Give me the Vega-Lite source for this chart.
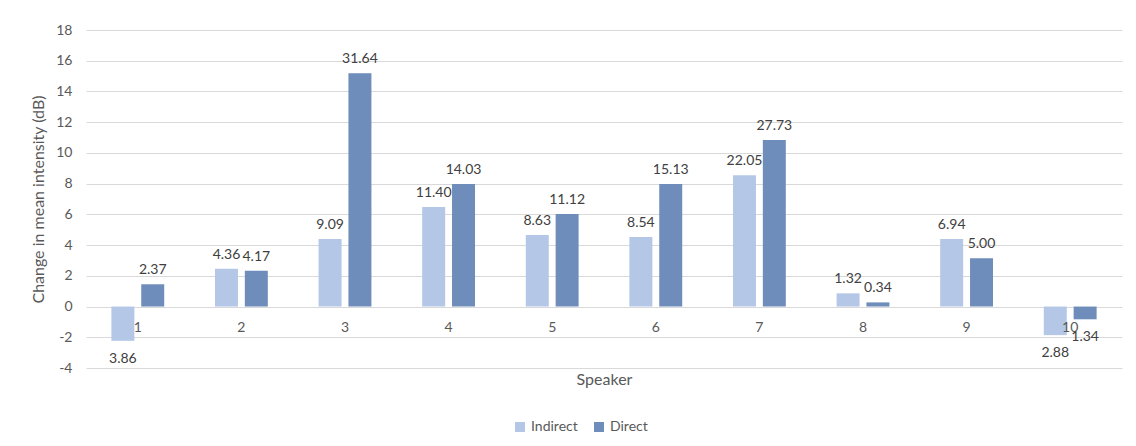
{
  "$schema": "https://vega.github.io/schema/vega-lite/v6.json",
  "width": 1036,
  "height": 338,
  "autosize": {"type": "none"},
  "padding": {"left": 86, "top": 30, "right": 14, "bottom": 78},
  "background": "white",
  "config": {
    "view": {"stroke": null},
    "font": "Lato",
    "axis": {
      "labelFont": "Lato",
      "titleFont": "Lato",
      "labelColor": "#595959",
      "titleColor": "#595959",
      "titleFontWeight": "normal",
      "labelFontSize": 14,
      "titleFontSize": 16
    },
    "legend": {"labelFont": "Lato", "labelFontSize": 14, "labelColor": "#595959"}
  },
  "data": {
    "values": [
      {"speaker": "1", "series": "Indirect", "value": -2.23, "label": "3.86"},
      {"speaker": "1", "series": "Direct", "value": 1.45, "label": "2.37"},
      {"speaker": "2", "series": "Indirect", "value": 2.46, "label": "4.36"},
      {"speaker": "2", "series": "Direct", "value": 2.33, "label": "4.17"},
      {"speaker": "3", "series": "Indirect", "value": 4.39, "label": "9.09"},
      {"speaker": "3", "series": "Direct", "value": 15.18, "label": "31.64"},
      {"speaker": "4", "series": "Indirect", "value": 6.48, "label": "11.40"},
      {"speaker": "4", "series": "Direct", "value": 7.97, "label": "14.03"},
      {"speaker": "5", "series": "Indirect", "value": 4.65, "label": "8.63"},
      {"speaker": "5", "series": "Direct", "value": 6.02, "label": "11.12"},
      {"speaker": "6", "series": "Indirect", "value": 4.52, "label": "8.54"},
      {"speaker": "6", "series": "Direct", "value": 7.97, "label": "15.13"},
      {"speaker": "7", "series": "Indirect", "value": 8.54, "label": "22.05"},
      {"speaker": "7", "series": "Direct", "value": 10.84, "label": "27.73"},
      {"speaker": "8", "series": "Indirect", "value": 0.86, "label": "1.32"},
      {"speaker": "8", "series": "Direct", "value": 0.27, "label": "0.34"},
      {"speaker": "9", "series": "Indirect", "value": 4.39, "label": "6.94"},
      {"speaker": "9", "series": "Direct", "value": 3.14, "label": "5.00"},
      {"speaker": "10", "series": "Indirect", "value": -1.86, "label": "2.88"},
      {"speaker": "10", "series": "Direct", "value": -0.83, "label": "1.34"}
    ]
  },
  "encoding": {
    "x": {
      "field": "speaker",
      "type": "ordinal",
      "sort": null,
      "scale": {"paddingInner": 0.49, "paddingOuter": 0.245},
      "axis": {
        "title": "Speaker",
        "labelAngle": 0,
        "offset": -61.5,
        "domain": false,
        "ticks": false,
        "grid": false,
        "zindex": 1,
        "labelPadding": 14,
        "titlePadding": 37
      }
    },
    "xOffset": {
      "field": "series",
      "type": "nominal",
      "sort": ["Indirect", "Direct"],
      "scale": {"paddingInner": 0.23, "paddingOuter": 0}
    },
    "y": {
      "field": "value",
      "type": "quantitative",
      "scale": {"domain": [-4, 18], "nice": false, "zero": false},
      "axis": {
        "title": "Change in mean intensity (dB)",
        "values": [-4, -2, 0, 2, 4, 6, 8, 10, 12, 14, 16, 18],
        "labelExpr": "'' + datum.value",
        "domain": false,
        "ticks": false,
        "labelPadding": 14,
        "titlePadding": 9,
        "gridColor": "#d9d9d9",
        "gridWidth": 1
      }
    }
  },
  "layer": [
    {
      "mark": {"type": "bar"},
      "encoding": {
        "color": {
          "field": "series",
          "type": "nominal",
          "sort": ["Indirect", "Direct"],
          "scale": {"domain": ["Indirect", "Direct"], "range": ["#b4c7e7", "#6f8dba"]},
          "legend": {
            "title": null,
            "orient": "none",
            "direction": "horizontal",
            "legendX": 427,
            "legendY": 390,
            "symbolType": "square",
            "symbolSize": 100,
            "symbolStrokeWidth": 0,
            "columnPadding": 14,
            "labelOffset": 4
          }
        }
      }
    },
    {
      "transform": [{"filter": "datum.value >= 0"}],
      "mark": {"type": "text", "baseline": "bottom", "dy": -7, "fontSize": 14, "color": "#404040", "font": "Lato"},
      "encoding": {"text": {"field": "label"}}
    },
    {
      "transform": [{"filter": "datum.value < 0"}],
      "mark": {"type": "text", "baseline": "top", "dy": 11, "fontSize": 14, "color": "#404040", "font": "Lato"},
      "encoding": {"text": {"field": "label"}}
    }
  ]
}
